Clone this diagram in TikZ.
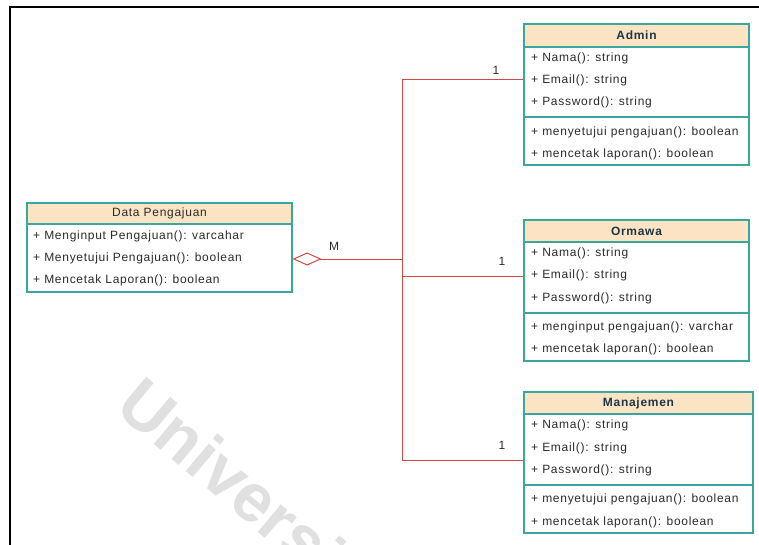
\documentclass[tikz,border=0pt]{standalone}
\usepackage{fontspec}
\setmainfont{Liberation Sans}[LetterSpace=6]
\newfontfamily\wmfont{Liberation Sans}
\usetikzlibrary{arrows.meta,fit}
\definecolor{frameteal}{HTML}{3AA6A0}
\definecolor{headfill}{HTML}{FBE3C4}
\definecolor{linkred}{HTML}{CF4A44}
\definecolor{titleink}{HTML}{1D3545}
\definecolor{rowink}{HTML}{2B2B2B}
\definecolor{wmgray}{HTML}{E0E0E0}
\tikzset{
  classframe/.style={draw=frameteal, line width=1.2pt, inner sep=0pt},
  headband/.style={fill=headfill},
  divider/.style={draw=frameteal, line width=1.2pt},
  rowtext/.style={anchor=west, inner sep=0pt, text=rowink, font=\fontsize{12}{14}\selectfont},
  titletext/.style={inner sep=0pt, text=titleink, font=\fontsize{12}{14}\selectfont\bfseries},
  plaintitle/.style={inner sep=0pt, text=rowink, font=\fontsize{12}{14}\selectfont},
  assoc/.style={draw=linkred, line width=1pt},
  aggtip/.style={{Diamond[open,length=29pt,width=13pt,line width=1pt]}-},
  multlabel/.style={inner sep=0pt, text=rowink, font=\fontsize{12}{14}\selectfont},
  pageframe/.style={draw=black, line width=2.6pt},
}
\begin{document}
\begin{tikzpicture}[x=1pt, y=-1pt]
\useasboundingbox (0,0) rectangle (759,545);
\fill[white] (0,0) rectangle (759,545);

% faint diagonal watermark
\begin{scope}
  \clip (0,0) rectangle (759,545);
  \node[anchor=base west, inner sep=0pt, text=wmgray, rotate=-40,
        font=\wmfont\fontsize{68}{72}\selectfont\bfseries] (wm) at (113,410) {Universi};
\end{scope}

% page frame (top and left edges)
\draw[pageframe] (10,545) -- (10,7) -- (759,7);

% ---------- Data Pengajuan ----------
\fill[headband] (27,203) rectangle (292,224);
\node[classframe, fit={(27,203) (292,292)}] (dp) {};
\draw[divider] (27,224) -- (292,224);
\node[plaintitle] (dp-title) at (159.5,213) {Data Pengajuan};
\node[rowtext] (dp-r1) at (33,236) {+ Menginput Pengajuan(): varcahar};
\node[rowtext] (dp-r2) at (33,258) {+ Menyetujui Pengajuan(): boolean};
\node[rowtext] (dp-r3) at (33,280) {+ Mencetak Laporan(): boolean};

% ---------- Admin ----------
\fill[headband] (524,24) rectangle (749,47);
\node[classframe, fit={(524,24) (749,165)}] (admin) {};
\draw[divider] (524,47) -- (749,47);
\draw[divider] (524,117) -- (749,117);
\node[titletext] (admin-title) at (636.5,35.5) {Admin};
\node[rowtext] (admin-r1) at (531,58) {+ Nama(): string};
\node[rowtext] (admin-r2) at (531,80) {+ Email(): string};
\node[rowtext] (admin-r3) at (531,102) {+ Password(): string};
\node[rowtext] (admin-r4) at (531,132) {+ menyetujui pengajuan(): boolean};
\node[rowtext] (admin-r5) at (531,154) {+ mencetak laporan(): boolean};

% ---------- Ormawa ----------
\fill[headband] (524,220) rectangle (749,242);
\node[classframe, fit={(524,220) (749,361)}] (orm) {};
\draw[divider] (524,242) -- (749,242);
\draw[divider] (524,313) -- (749,313);
\node[titletext] (orm-title) at (636.5,231) {Ormawa};
\node[rowtext] (orm-r1) at (531,253) {+ Nama(): string};
\node[rowtext] (orm-r2) at (531,275) {+ Email(): string};
\node[rowtext] (orm-r3) at (531,298) {+ Password(): string};
\node[rowtext] (orm-r4) at (531,327) {+ menginput pengajuan(): varchar};
\node[rowtext] (orm-r5) at (531,349) {+ mencetak laporan(): boolean};

% ---------- Manajemen ----------
\fill[headband] (524,392) rectangle (753,414);
\node[classframe, fit={(524,392) (753,533)}] (mgr) {};
\draw[divider] (524,414) -- (753,414);
\draw[divider] (524,485) -- (753,485);
\node[titletext] (mgr-title) at (638.5,403) {Manajemen};
\node[rowtext] (mgr-r1) at (531,425) {+ Nama(): string};
\node[rowtext] (mgr-r2) at (531,448) {+ Email(): string};
\node[rowtext] (mgr-r3) at (531,470) {+ Password(): string};
\node[rowtext] (mgr-r4) at (531,499) {+ menyetujui pengajuan(): boolean};
\node[rowtext] (mgr-r5) at (531,522) {+ mencetak laporan(): boolean};

% ---------- aggregation connectors ----------
\coordinate (dp-agg) at (dp.east |- 0,259);
\coordinate (hub) at (402,259);
\coordinate (admin-in) at (admin.west |- 0,80);
\coordinate (orm-in) at (orm.west |- 0,276);
\coordinate (mgr-in) at (mgr.west |- 0,460);

\draw[assoc] (admin-in) -- (admin-in -| hub) -- (mgr-in -| hub) -- (mgr-in);
\draw[assoc] (orm-in) -- (orm-in -| hub);
\draw[assoc, aggtip] (dp-agg) -- (hub);

\node[multlabel] (m-dp) at (334,246) {M};
\node[multlabel] (m-admin) at (496,70) {1};
\node[multlabel] (m-orm) at (502,261) {1};
\node[multlabel] (m-mgr) at (502,445) {1};
\end{tikzpicture}
\end{document}
